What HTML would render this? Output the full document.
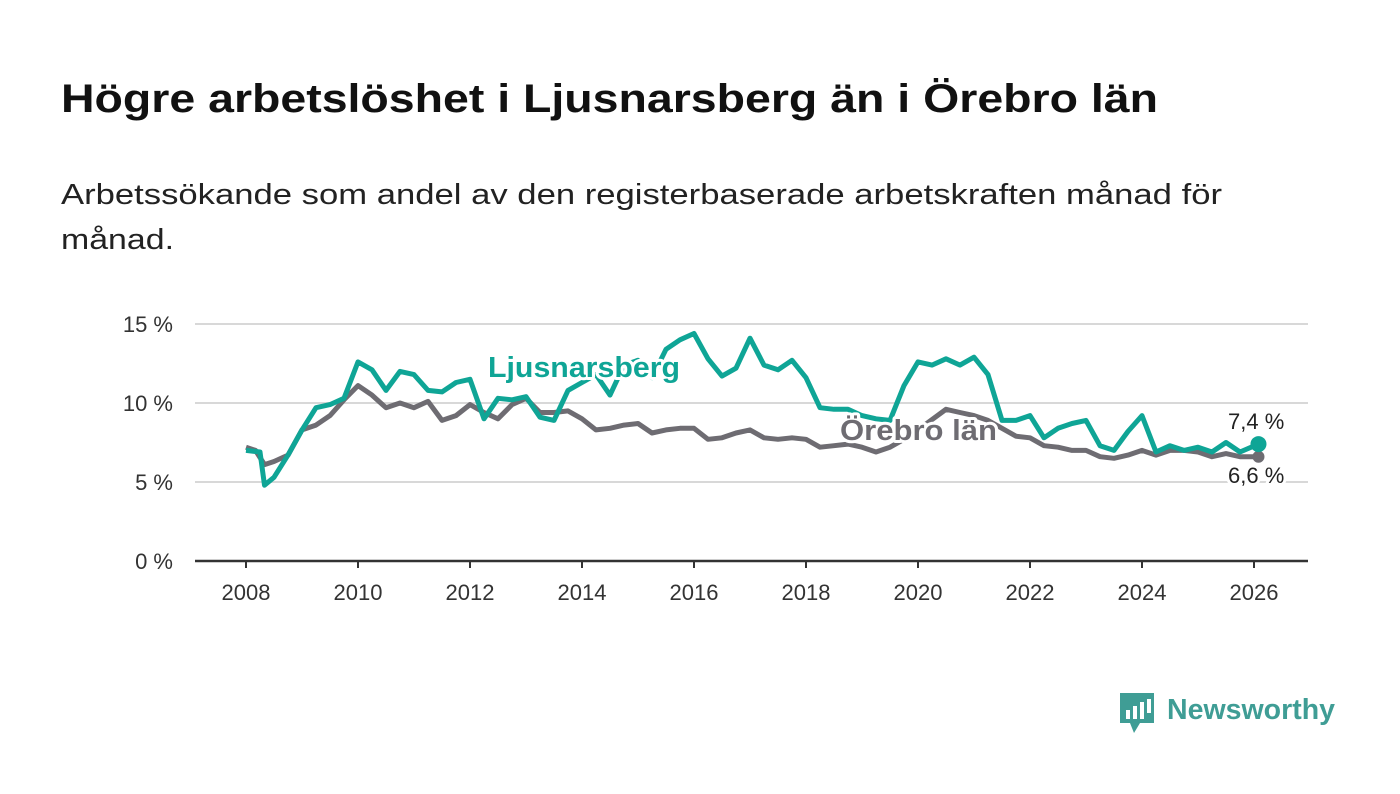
<!DOCTYPE html>
<html><head><meta charset="utf-8"><style>
body{margin:0;background:#fff;width:1400px;height:794px;overflow:hidden;font-family:"Liberation Sans",sans-serif;}
svg{position:absolute;left:0;top:0}
</style></head><body>
<svg width="1400" height="794">
<text x="61" y="112" font-size="40" font-weight="bold" fill="#111" textLength="1097" lengthAdjust="spacingAndGlyphs">Högre arbetslöshet i Ljusnarsberg än i Örebro län</text>
<text x="61" y="204" font-size="29" fill="#222" textLength="1161" lengthAdjust="spacingAndGlyphs">Arbetssökande som andel av den registerbaserade arbetskraften månad för</text>
<text x="61" y="249" font-size="29" fill="#222" textLength="113" lengthAdjust="spacingAndGlyphs">månad.</text>
<g id="grid"></g><g id="lines"></g><g id="labels"></g>
<g>
<path d="M1120 693h34v30h-14l-6 10-4-10h-10z" fill="#3f9d95"/>
<rect x="1126" y="710" width="4" height="9" fill="#fff"/><rect x="1133" y="706" width="4" height="13" fill="#fff"/><rect x="1140" y="702" width="4" height="17" fill="#fff"/><rect x="1147" y="699" width="4" height="14" fill="#fff"/>
<text x="1167" y="719" font-size="29" font-weight="bold" fill="#3f9d95" textLength="168" lengthAdjust="spacingAndGlyphs">Newsworthy</text>
</g>
</svg>
<script>
const years=[2008,2010,2012,2014,2016,2018,2020,2022,2024,2026];
const yTicks=[0,5,10,15];
const tL=[2008,2008.25,2008.33,2008.5,2008.75,2009,2009.25,2009.5,2009.75,2010,2010.25,2010.5,2010.75,2011,2011.25,2011.5,2011.75,2012,2012.25,2012.5,2012.75,2013,2013.25,2013.5,2013.75,2014,2014.25,2014.5,2014.75,2015,2015.25,2015.5,2015.75,2016,2016.25,2016.5,2016.75,2017,2017.25,2017.5,2017.75,2018,2018.25,2018.5,2018.75,2019,2019.25,2019.5,2019.75,2020,2020.25,2020.5,2020.75,2021,2021.25,2021.5,2021.75,2022,2022.25,2022.5,2022.75,2023,2023.25,2023.5,2023.75,2024,2024.25,2024.5,2024.75,2025,2025.25,2025.5,2025.75,2026.08];
const ljus=[7.0,6.9,4.8,5.3,6.7,8.3,9.7,9.9,10.3,12.6,12.1,10.8,12.0,11.8,10.8,10.7,11.3,11.5,9.0,10.3,10.2,10.4,9.1,8.9,10.8,11.3,11.8,10.5,12.4,12.7,11.6,13.4,14.0,14.4,12.8,11.7,12.2,14.1,12.4,12.1,12.7,11.6,9.7,9.6,9.6,9.2,9.0,8.9,11.1,12.6,12.4,12.8,12.4,12.9,11.8,8.9,8.9,9.2,7.8,8.4,8.7,8.9,7.3,7.0,8.2,9.2,6.9,7.3,7.0,7.2,6.9,7.5,6.9,7.4];
const tO=[2008,2008.17,2008.33,2008.5,2008.75,2009,2009.25,2009.5,2009.75,2010,2010.25,2010.5,2010.75,2011,2011.25,2011.5,2011.75,2012,2012.25,2012.5,2012.75,2013,2013.25,2013.5,2013.75,2014,2014.25,2014.5,2014.75,2015,2015.25,2015.5,2015.75,2016,2016.25,2016.5,2016.75,2017,2017.25,2017.5,2017.75,2018,2018.25,2018.5,2018.75,2019,2019.25,2019.5,2019.75,2020,2020.5,2020.75,2021,2021.25,2021.5,2021.75,2022,2022.25,2022.5,2022.75,2023,2023.25,2023.5,2023.75,2024,2024.25,2024.5,2024.75,2025,2025.25,2025.5,2025.75,2026.08];
const orebro=[7.2,7.0,6.1,6.3,6.7,8.3,8.6,9.2,10.2,11.1,10.5,9.7,10.0,9.7,10.1,8.9,9.2,9.9,9.4,9.0,9.9,10.3,9.4,9.4,9.5,9.0,8.3,8.4,8.6,8.7,8.1,8.3,8.4,8.4,7.7,7.8,8.1,8.3,7.8,7.7,7.8,7.7,7.2,7.3,7.4,7.2,6.9,7.2,7.7,8.3,9.6,9.4,9.2,8.9,8.4,7.9,7.8,7.3,7.2,7.0,7.0,6.6,6.5,6.7,7.0,6.7,7.0,7.0,6.9,6.6,6.8,6.6,6.6];
const X=t=>246+56*(t-2008), Y=v=>561-15.8*v;
const NS="http://www.w3.org/2000/svg";
function mk(tag,attrs,parent){const e=document.createElementNS(NS,tag);for(const k in attrs)e.setAttribute(k,attrs[k]);document.getElementById(parent).appendChild(e);return e;}
yTicks.forEach(v=>{
 const l=mk('line',{x1:195,x2:1308,y1:Y(v),y2:Y(v),stroke:v?'#d8d8d8':'#333','stroke-width':v?2:2.5},'grid');
 
 
 const t=mk('text',{x:173,y:Y(v)+8,'text-anchor':'end','font-size':22,fill:'#333'},'grid');t.textContent=v+' %';
 
 
});
years.forEach(y=>{
 const tk=mk('line',{x1:X(y),x2:X(y),y1:561,y2:568,stroke:'#333','stroke-width':2},'grid');
 
 
 const t=mk('text',{x:X(y),y:600,'text-anchor':'middle','font-size':22,fill:'#333'},'grid');t.textContent=y;
 
 
});
function path(ts,vs){return ts.map((t,i)=>(i?'L':'M')+X(t).toFixed(1)+' '+Y(vs[i]).toFixed(1)).join('');}
const po=mk('path',{d:path(tO,orebro),fill:'none',stroke:'#6e6c72','stroke-width':5,'stroke-linejoin':'round'},'lines');


const pl=mk('path',{d:path(tL,ljus),fill:'none',stroke:'#0fa596','stroke-width':5,'stroke-linejoin':'round'},'lines');


const lo=orebro.length-1, ll=ljus.length-1;
const d1=mk('circle',{cx:X(tO[lo]),cy:Y(orebro[lo]),r:6,fill:'#6e6c72'},'lines');


const d2=mk('circle',{cx:X(tL[ll]),cy:Y(ljus[ll]),r:8,fill:'#0fa596'},'lines');


function lab(txt,x,y,col,sz,bold,name,len){const a={x:x,y:y,fill:col,'font-size':sz,'font-weight':bold?'bold':'normal',stroke:'#fff','stroke-width':6,'paint-order':'stroke','stroke-linejoin':'round'};if(len){a.textLength=len;a.lengthAdjust='spacingAndGlyphs';}const t=mk('text',a,'labels');t.textContent=txt;
 
 }
lab('Ljusnarsberg',488,377,'#0fa596',29,true,'ljusnarsberg-label',192);
lab('Örebro län',840,440,'#6e6c72',29,true,'orebro-lan-label',157);
lab(ljus[ll].toString().replace('.',',')+' %',1228,429,'#222',22,false,'ljusnarsberg-value');
lab(orebro[lo].toString().replace('.',',')+' %',1228,483,'#222',22,false,'orebro-value');
</script>
</body></html>
